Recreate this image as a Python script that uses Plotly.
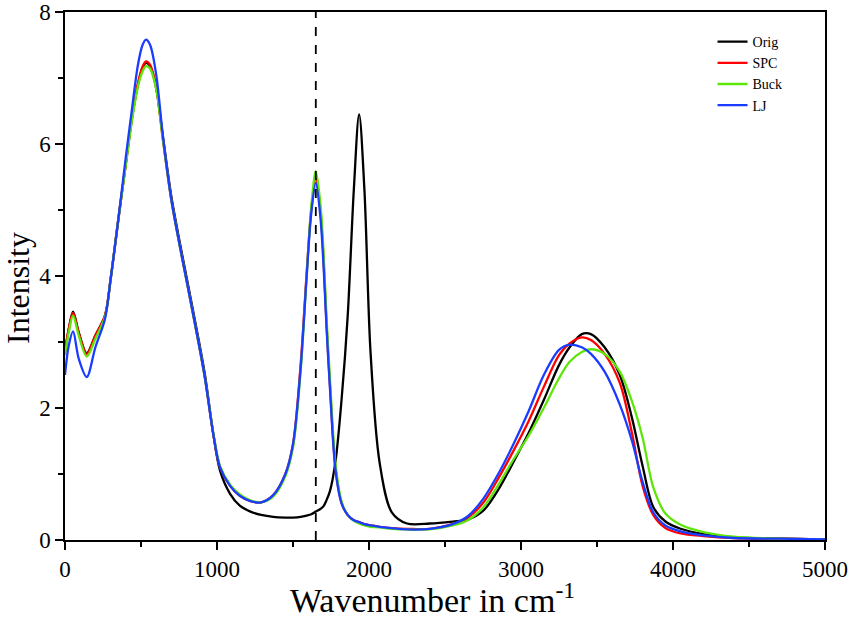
import plotly.graph_objects as go

wavenumber = [0, 25, 53, 90, 143, 200, 263, 300, 351, 400, 439, 480, 510, 533, 560, 600, 645, 700, 760, 811,
              882, 921, 976, 1020, 1086, 1150, 1220, 1290, 1370, 1450, 1500, 1550, 1590, 1620, 1650, 1680, 1700,
              1720, 1743, 1780, 1820, 1860, 1900, 1935, 1970, 2010, 2070, 2150, 2250, 2400, 2550, 2650, 2750,
              2850, 2950, 3050, 3150, 3250, 3320, 3400, 3460, 3550, 3650, 3730, 3800, 3870, 3950, 4050, 4200,
              4400, 4700, 5000]

orig = [2.85, 3.2, 3.46, 3.15, 2.83, 3.1, 3.4, 3.95, 4.86, 5.7, 6.37, 6.9, 7.15, 7.23, 7.18, 6.85, 6.1, 5.2, 4.45, 3.85,
        3.0, 2.5, 1.6, 1.05, 0.7, 0.52, 0.43, 0.38, 0.35, 0.34, 0.34, 0.35, 0.37, 0.39, 0.43, 0.47, 0.51,
        0.6, 0.74, 1.2, 2.14, 3.4, 5.3, 6.45, 5.3, 2.85, 1.17, 0.42, 0.25, 0.25, 0.28, 0.31, 0.44,
        0.76, 1.18, 1.62, 2.12, 2.65, 2.92, 3.12, 3.12, 2.92, 2.5, 1.85, 1.12, 0.5, 0.28, 0.17, 0.09,
        0.04, 0.02, 0.01]

spc = [2.85, 3.2, 3.44, 3.14, 2.82, 3.1, 3.4, 3.95, 4.86, 5.7, 6.37, 6.92, 7.17, 7.25, 7.2, 6.85, 6.05, 5.15, 4.4, 3.8,
       2.95, 2.45, 1.6, 1.1, 0.82, 0.67, 0.59, 0.57, 0.68, 1.0, 1.45, 2.65, 4.05, 5.0, 5.48, 5.0, 4.3,
       3.3, 2.35, 1.08, 0.56, 0.38, 0.3, 0.27, 0.24, 0.22, 0.2, 0.18, 0.17, 0.17, 0.24, 0.34, 0.56,
       0.93, 1.35, 1.8, 2.32, 2.8, 2.98, 3.07, 3.03, 2.82, 2.38, 1.62, 0.82, 0.38, 0.18, 0.1, 0.06,
       0.03, 0.02, 0.01]

buck = [2.8, 3.15, 3.4, 3.1, 2.78, 3.05, 3.38, 3.95, 4.86, 5.68, 6.33, 6.87, 7.1, 7.18, 7.14, 6.83, 6.05, 5.15, 4.4, 3.8,
        2.95, 2.45, 1.62, 1.12, 0.84, 0.69, 0.6, 0.57, 0.66, 0.97, 1.4, 2.55, 4.0, 5.05, 5.59, 5.1, 4.4,
        3.4, 2.45, 1.15, 0.58, 0.38, 0.29, 0.25, 0.22, 0.2, 0.19, 0.17, 0.16, 0.16, 0.22, 0.3, 0.49,
        0.83, 1.22, 1.58, 2.0, 2.45, 2.7, 2.85, 2.89, 2.82, 2.55, 2.1, 1.55, 0.8, 0.4, 0.23, 0.12,
        0.05, 0.02, 0.01]

lj = [2.5, 2.95, 3.16, 2.75, 2.47, 2.92, 3.35, 3.95, 4.86, 5.8, 6.5, 7.2, 7.5, 7.58, 7.5, 7.05, 6.1, 5.15, 4.4, 3.8,
      2.95, 2.45, 1.6, 1.1, 0.82, 0.67, 0.59, 0.57, 0.68, 1.0, 1.45, 2.6, 4.0, 4.95, 5.41, 4.9, 4.2,
      3.25, 2.3, 1.05, 0.55, 0.38, 0.3, 0.27, 0.24, 0.22, 0.2, 0.18, 0.16, 0.17, 0.24, 0.36, 0.62,
      1.0, 1.45, 1.95, 2.5, 2.88, 2.96, 2.92, 2.82, 2.55, 2.05, 1.5, 0.88, 0.42, 0.22, 0.13, 0.07,
      0.03, 0.02, 0.01]

series_names = ["Orig", "SPC", "Buck", "LJ"]
series_values = [orig, spc, buck, lj]
series_colors = ["#000000", "#ff0000", "#5ee60a", "#1a3cff"]

marker_x = 1650
x_ticks = [0, 1000, 2000, 3000, 4000, 5000]
x_minor = [500, 1500, 2500, 3500, 4500]
y_ticks = [0, 2, 4, 6, 8]
y_minor = [1, 3, 5, 7]
x_title = "Wavenumber in cm<sup>-1</sup>"
y_title = "Intensity"

FONT = "Liberation Serif, Times New Roman, serif"

fig = go.Figure()
for name, vals, col in zip(series_names, series_values, series_colors):
    fig.add_trace(go.Scatter(x=wavenumber, y=vals, name=name, mode="lines",
                             line=dict(color=col, width=2.3, shape="spline", smoothing=0.9)))

fig.add_shape(type="line", x0=marker_x, x1=marker_x, y0=0, y1=1, xref="x", yref="paper",
              line=dict(color="black", width=1.8, dash="dash"))

axis_common = dict(showgrid=False, zeroline=False, showline=True, linecolor="black", linewidth=1.5,
                   mirror=True, ticks="outside", tickcolor="black", tickwidth=1.5, ticklen=8,
                   automargin=False, ticklabeloverflow="allow",
                   tickfont=dict(family=FONT, size=23, color="black"))

fig.update_xaxes(range=[0, 5000], tickvals=x_ticks, ticktext=[str(v) for v in x_ticks],
                 minor=dict(tickvals=x_minor, ticklen=5, tickcolor="black", tickwidth=1.5, ticks="outside"),
                 **axis_common)
fig.update_yaxes(range=[0, 8], tickvals=y_ticks, ticktext=[str(v) for v in y_ticks],
                 minor=dict(tickvals=y_minor, ticklen=5, tickcolor="black", tickwidth=1.5, ticks="outside"),
                 **axis_common)

fig.add_annotation(text=x_title, xref="paper", yref="paper", x=0.483, y=-0.11,
                   xanchor="center", yanchor="middle", showarrow=False,
                   font=dict(family=FONT, size=34, color="black"))
fig.add_annotation(text=y_title, xref="paper", yref="paper", x=-0.062, y=0.477, textangle=-90,
                   xanchor="center", yanchor="middle", showarrow=False,
                   font=dict(family=FONT, size=32, color="black"))

fig.update_layout(width=855, height=619, margin=dict(l=65, r=30, t=12, b=79),
                  paper_bgcolor="white", plot_bgcolor="white",
                  legend=dict(x=0.852, y=0.9735, xanchor="left", yanchor="top", bgcolor="rgba(0,0,0,0)",
                              font=dict(family=FONT, size=14, color="black"), tracegroupgap=0,
                              itemwidth=30),
                  showlegend=True)

fig.write_html("out.html", config={"displayModeBar": False},
               post_script="document.body.style.margin='0px';")
